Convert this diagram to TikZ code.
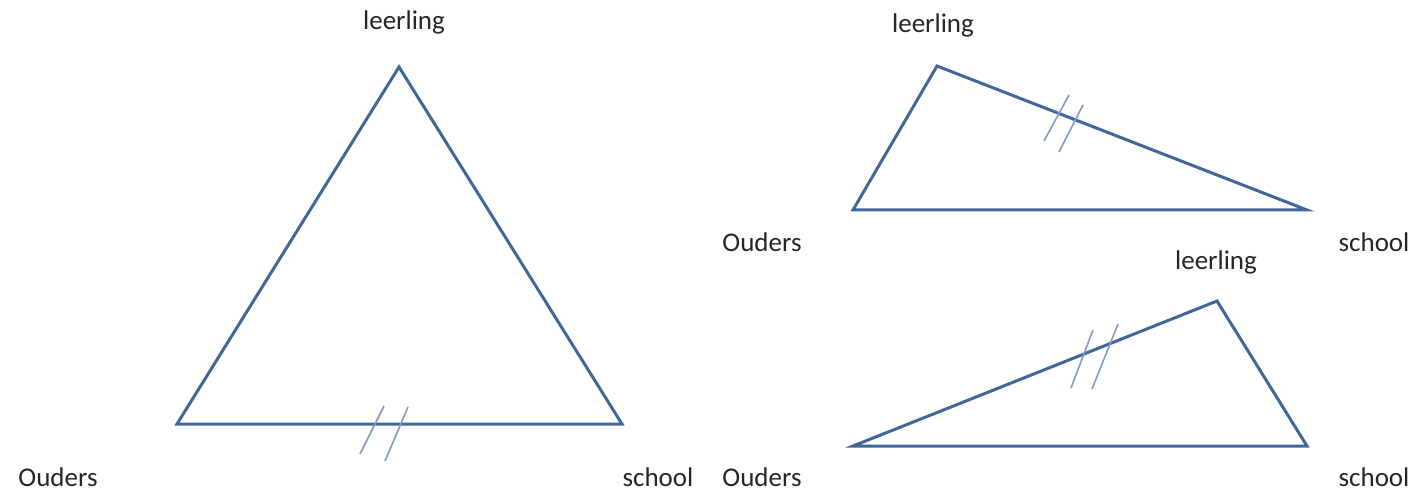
\documentclass[tikz,border=0pt]{standalone}
\usepackage{fontspec}
\setmainfont{Carlito}
\begin{document}
\begin{tikzpicture}[x=1pt,y=-1pt,
  edge/.style={draw=tri,line width=3pt,line join=miter},
  hatch/.style={draw=hatchc,line width=1.6pt},
  lbl/.style={font=\fontsize{27}{30}\selectfont,text=black!85,inner sep=0pt}]
\definecolor{tri}{HTML}{41679A}
\definecolor{hatchc}{HTML}{7F9CC9}
\useasboundingbox (0,0) rectangle (1419,494);
% triangle 1
\coordinate (a1) at (399,67);
\coordinate (b1) at (177,424);
\coordinate (c1) at (622,424);
\draw[edge] (a1) -- (b1) -- (c1) -- cycle;
\coordinate (m1s) at (360,454); \coordinate (m1e) at (384,406);
\coordinate (m2s) at (385,461); \coordinate (m2e) at (408,407);
\draw[hatch] (m1s) -- (m1e);
\draw[hatch] (m2s) -- (m2e);
\node[lbl] (l1) at (404,22) {leerling};
\node[lbl] (o1) at (58,477) {Ouders};
\node[lbl] (s1) at (658,477) {school};
% triangle 2
\coordinate (a2) at (937,66);
\coordinate (b2) at (853,210);
\coordinate (c2) at (1307,210);
\draw[edge] (a2) -- (b2) -- (c2) -- cycle;
\coordinate (n1s) at (1044,141); \coordinate (n1e) at (1069,95);
\coordinate (n2s) at (1059,152); \coordinate (n2e) at (1083,105);
\draw[hatch] (n1s) -- (n1e);
\draw[hatch] (n2s) -- (n2e);
\node[lbl] (l2) at (933,25) {leerling};
\node[lbl] (o2) at (762,242) {Ouders};
\node[lbl] (s2) at (1374,242) {school};
% triangle 3
\coordinate (a3) at (1217,301);
\coordinate (b3) at (853,446);
\coordinate (c3) at (1307,446);
\draw[edge] (a3) -- (b3) -- (c3) -- cycle;
\coordinate (p1s) at (1071,388); \coordinate (p1e) at (1093,330);
\coordinate (p2s) at (1092,389); \coordinate (p2e) at (1118,324);
\draw[hatch] (p1s) -- (p1e);
\draw[hatch] (p2s) -- (p2e);
\node[lbl] (l3) at (1216,262) {leerling};
\node[lbl] (o3) at (762,477) {Ouders};
\node[lbl] (s3) at (1374,477) {school};
\end{tikzpicture}
\end{document}
